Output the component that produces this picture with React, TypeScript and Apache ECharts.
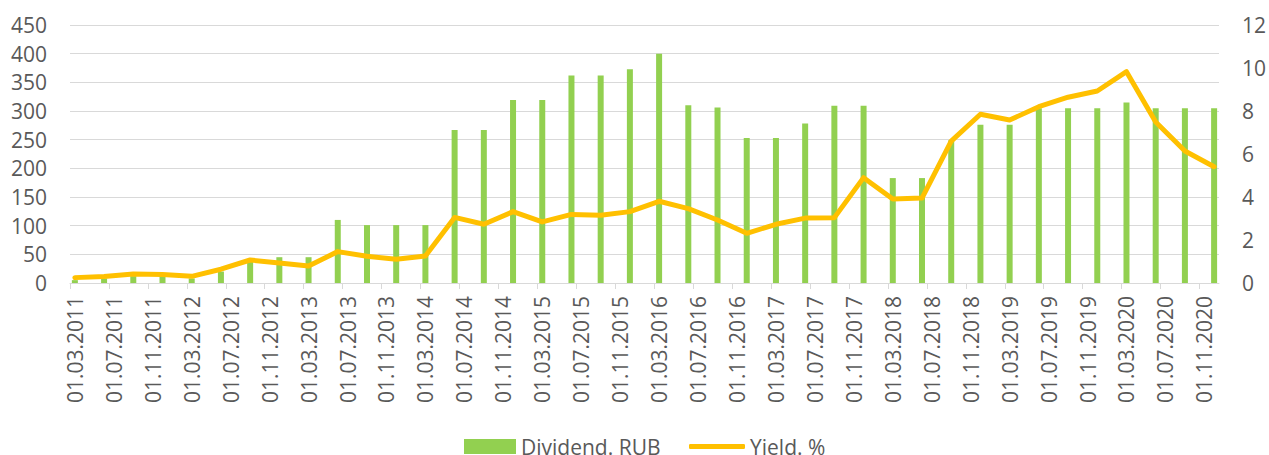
import React, { useEffect, useRef } from "react";
import * as echarts from "echarts";

// Quarterly observation dates
const dates: string[] = [];
const years = [2011, 2012, 2013, 2014, 2015, 2016, 2017, 2018, 2019, 2020];
const quarterMonths = ["03", "06", "09", "12"];
const labelMonths = ["03", "07", "11"];
for (const y of years) for (const m of quarterMonths) dates.push(`01.${m}.${y}`);

// Tick labels on the date axis (every 4 months)
const tickLabels: string[] = [];
for (const y of years) for (const m of labelMonths) tickLabels.push(`01.${m}.${y}`);

const dividend = [
  5, 8, 12, 12, 8, 20, 42, 45, 45, 110,
  101, 101, 101, 267, 267, 319, 319, 362, 362, 373,
  400, 310, 306, 253, 253, 278, 309, 309, 183, 183,
  249, 276, 276, 305, 305, 305, 315, 305, 305, 305,
];

const yieldPct = [
  0.25, 0.3, 0.42, 0.39, 0.31, 0.64, 1.07, 0.93, 0.79, 1.46,
  1.24, 1.1, 1.26, 3.05, 2.73, 3.32, 2.84, 3.19, 3.15, 3.32,
  3.8, 3.46, 2.93, 2.31, 2.73, 3.02, 3.04, 4.9, 3.91, 3.95,
  6.6, 7.85, 7.58, 8.2, 8.64, 8.93, 9.83, 7.49, 6.14, 5.41,
];

const BASE_Y = 2011;
const BASE_M = 3;
const monthIndex = (d: string) => {
  const [, mm, yyyy] = d.split(".");
  return (parseInt(yyyy, 10) - BASE_Y) * 12 + (parseInt(mm, 10) - BASE_M);
};
const indexToLabel = (v: number) => {
  const total = BASE_Y * 12 + (BASE_M - 1) + Math.round(v);
  const y = Math.floor(total / 12);
  const m = (total % 12) + 1;
  return `01.${m < 10 ? "0" + m : m}.${y}`;
};

const FONT = "'Open Sans', sans-serif";
const TEXT = "#595959";
const GRID = "#D9D9D9";
const FS = 21;

export default function App() {
  const ref = useRef<HTMLDivElement>(null);
  useEffect(() => {
    if (!ref.current) return;
    const chart = echarts.init(ref.current, null, { renderer: "svg" });
    const xs = dates.map(monthIndex);
    const labelVals = tickLabels.map(monthIndex);
    const tickVals = labelVals.map((v) => v - 0.5);
    const xMin = xs[0] - 0.5;
    const xMax = xs[xs.length - 1] + 0.5;
    chart.setOption({
      animation: false,
      textStyle: { fontFamily: FONT },
      grid: { left: 70, right: 47, top: 25, bottom: 172 },
      legend: [
        {
          data: [{ name: "Dividend. RUB", icon: "rect" }],
          left: 464,
          top: 436,
          padding: 0,
          itemWidth: 52,
          itemHeight: 15,
          textStyle: { fontFamily: FONT, fontSize: FS, color: TEXT },
          selectedMode: false,
        },
        {
          data: [{ name: "Yield. %", icon: "roundRect" }],
          left: 689,
          top: 436,
          padding: 0,
          itemWidth: 56,
          itemHeight: 5,
          textStyle: { fontFamily: FONT, fontSize: FS, color: TEXT },
          selectedMode: false,
        },
      ],
      xAxis: {
        type: "value",
        min: xMin,
        max: xMax,
        axisLine: { show: true, lineStyle: { color: GRID, width: 1 } },
        axisTick: {
          show: true,
          customValues: tickVals,
          length: 6,
          lineStyle: { color: GRID },
        },
        splitLine: { show: false },
        axisLabel: {
          customValues: labelVals,
          rotate: 90,
          margin: 13,
          fontSize: FS,
          color: TEXT,
          fontFamily: FONT,
          formatter: (v: number) => indexToLabel(v),
        },
      },
      yAxis: [
        {
          type: "value",
          min: 0,
          max: 450,
          interval: 50,
          axisLine: { show: false },
          axisTick: { show: false },
          splitLine: { show: true, lineStyle: { color: GRID, width: 1 } },
          axisLabel: { margin: 23, fontSize: FS, color: TEXT, fontFamily: FONT },
        },
        {
          type: "value",
          min: 0,
          max: 12,
          interval: 2,
          position: "right",
          axisLine: { show: false },
          axisTick: { show: false },
          splitLine: { show: false },
          axisLabel: { margin: 23, fontSize: FS, color: TEXT, fontFamily: FONT },
        },
      ],
      series: [
        {
          name: "Dividend. RUB",
          type: "bar",
          yAxisIndex: 0,
          barWidth: 6,
          itemStyle: { color: "#92D050" },
          data: xs.map((x, i) => [x, dividend[i]]),
          z: 2,
        },
        {
          name: "Yield. %",
          type: "line",
          yAxisIndex: 1,
          showSymbol: false,
          symbol: "none",
          lineStyle: { color: "#FFC000", width: 5, join: "round", cap: "round" },
          itemStyle: { color: "#FFC000" },
          data: xs.map((x, i) => [x, yieldPct[i]]),
          z: 3,
        },
      ],
    });
    return () => chart.dispose();
  }, []);
  return (
    <div
      ref={ref}
      style={{ position: "fixed", left: 0, top: 0, width: 1269, height: 455, background: "#fff" }}
    />
  );
}
